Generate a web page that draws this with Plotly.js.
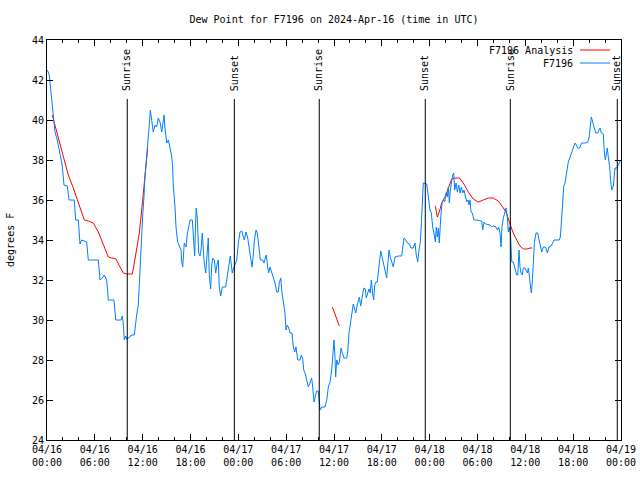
<!DOCTYPE html>
<html>
<head>
<meta charset="utf-8">
<script src="https://cdn.plot.ly/plotly-3.0.1.min.js"></script>
<style>html,body{margin:0;padding:0;background:#fff;}#chart{width:640px;height:480px;}</style>
</head>
<body>
<div id="chart"></div>
<script>
// ---- Data (hours since 2024-04-16 00:00 UTC, dew point in degrees F) ----
const obsHours = [0.00,0.16,0.30,0.50,0.66,0.88,1.00,1.29,1.42,1.72,1.92,2.13,2.55,2.76,3.42,3.60,3.93,4.14,4.35,4.98,5.18,6.44,6.65,6.94,7.19,7.49,7.69,8.40,8.62,9.28,9.45,9.57,9.70,9.87,10.00,10.41,10.54,10.95,11.04,11.25,11.45,11.58,11.75,11.88,12.00,12.17,12.29,12.51,12.71,12.83,12.96,13.13,13.33,13.55,13.76,13.96,14.17,14.39,14.68,14.80,15.02,15.22,15.43,15.64,15.77,15.84,16.06,16.18,16.39,16.81,16.90,17.02,17.22,17.44,17.60,17.94,18.23,18.44,18.52,18.65,18.72,18.85,19.03,19.19,19.32,19.48,19.69,19.91,20.03,20.23,20.36,20.53,20.66,20.79,20.99,21.16,21.36,21.49,21.61,21.79,21.99,22.42,22.54,22.74,22.87,22.99,23.12,23.24,23.37,23.58,23.80,24.00,24.21,24.42,24.55,24.75,24.96,25.18,25.34,25.55,25.72,25.88,26.01,26.22,26.38,26.59,26.76,27.06,27.22,27.38,27.51,27.68,27.81,27.97,28.19,28.39,28.60,28.81,29.01,29.14,29.32,29.48,29.64,29.85,29.98,30.14,30.32,30.48,30.73,30.90,31.07,31.23,31.45,31.74,31.90,32.08,32.20,32.40,32.58,32.78,32.99,33.20,33.33,33.49,33.66,33.83,34.03,34.16,34.25,34.46,34.87,35.09,35.29,35.50,35.71,35.84,36.00,36.13,36.21,36.34,36.54,36.67,36.88,37.04,37.26,37.60,37.72,37.88,38.05,38.22,38.42,38.55,38.72,38.89,39.05,39.18,39.35,39.55,39.73,39.93,40.05,40.23,40.39,40.55,40.68,40.86,40.98,41.11,41.27,41.43,41.56,41.73,41.86,41.98,42.19,42.40,42.61,42.74,42.90,43.06,43.28,43.44,43.65,44.07,44.49,44.62,44.78,45.00,45.20,45.45,45.66,45.95,46.16,46.32,46.50,46.66,46.83,46.92,47.08,47.20,47.63,47.83,48.04,48.21,48.38,48.58,48.71,48.83,48.96,49.09,49.21,49.39,49.55,49.72,49.89,50.05,50.21,50.34,50.47,50.59,50.77,50.89,51.02,51.14,51.31,51.47,51.65,51.81,51.97,52.15,52.31,52.47,52.65,52.81,52.94,53.06,53.19,53.35,53.56,53.90,54.53,54.65,54.82,55.03,55.57,55.78,55.98,56.32,56.49,56.66,56.82,56.95,57.07,57.24,57.41,57.58,57.74,57.87,57.99,58.16,58.24,58.30,58.49,58.71,58.92,59.05,59.21,59.33,59.46,59.62,59.75,59.96,60.09,60.25,60.38,60.50,60.63,60.75,60.88,61.00,61.13,61.34,61.55,61.72,61.88,62.06,62.26,62.47,62.59,62.76,62.97,63.22,63.43,63.60,64.26,64.39,64.57,64.69,64.82,64.98,65.11,65.23,65.39,65.60,65.82,66.02,66.23,66.40,66.57,66.82,67.07,67.49,67.82,67.99,68.15,68.28,68.45,68.62,68.83,69.08,69.24,69.37,69.53,69.78,69.91,70.03,70.16,70.28,70.41,70.58,70.71,70.84,71.04,71.25,71.46,71.66,71.79,72.00];
const obsValues = [42.5,42.4,42.2,41.35,40.5,39.9,39.4,39.0,38.7,38.2,37.7,36.75,36.7,36.0,36.0,35.0,35.0,33.8,34.0,33.9,33.0,33.0,32.0,32.1,32.25,32.0,31.0,31.0,30.0,30.0,30.2,29.8,29.0,29.2,29.05,29.15,29.25,29.25,29.65,30.25,30.75,31.9,33.2,34.0,35.2,36.2,37.2,38.2,39.0,39.75,40.5,40.0,39.4,39.75,39.65,40.1,39.9,39.4,40.25,39.6,38.85,39.0,38.6,38.2,37.6,36.7,35.65,34.65,33.9,33.5,32.9,32.65,33.85,33.65,34.3,35.0,35.0,33.65,33.2,35.0,35.6,35.1,33.35,33.2,33.5,34.35,33.0,32.35,33.0,34.1,32.2,31.55,32.75,33.1,33.0,32.35,32.85,33.0,31.65,31.2,31.65,31.65,32.0,32.5,33.0,33.2,32.75,32.35,32.55,32.75,33.0,33.85,34.4,34.45,34.25,34.0,34.4,34.1,33.65,33.15,32.65,33.25,33.95,34.5,34.35,33.65,33.0,33.0,32.85,33.1,33.25,32.65,32.35,32.65,32.4,32.15,31.85,31.4,31.4,31.85,32.1,31.35,30.85,30.35,29.5,29.75,29.6,29.35,29.35,28.65,28.4,28.65,28.0,28.0,28.25,28.05,27.5,27.3,27.0,26.65,26.85,27.1,26.65,25.9,26.2,26.45,26.45,26.0,25.5,25.65,25.65,26.0,26.65,26.9,27.5,28.15,29.0,28.1,27.15,28.0,27.75,27.9,28.6,28.35,28.1,28.1,28.4,29.35,29.85,30.35,30.8,30.6,30.35,30.7,31.0,31.15,30.7,31.25,31.6,31.55,31.1,31.35,31.55,31.35,32.0,31.25,31.0,31.75,31.9,31.9,32.35,32.85,33.45,33.25,32.9,32.5,32.1,32.75,33.5,33.15,32.9,32.65,33.15,33.2,33.2,33.75,34.1,34.0,33.85,33.8,33.6,33.6,33.85,33.25,32.9,33.5,33.9,34.5,35.6,36.85,36.8,36.15,35.5,35.35,34.65,34.25,33.9,34.65,34.15,34.6,33.85,35.15,35.85,36.0,35.9,36.35,36.15,36.65,35.85,36.5,37.1,37.25,37.35,36.5,36.85,36.4,36.75,36.35,36.65,36.35,36.5,36.15,35.9,36.0,35.75,36.0,35.4,35.35,35.0,35.0,34.95,34.5,34.9,34.8,34.75,34.65,34.7,34.65,34.5,34.65,34.35,33.65,34.65,35.1,35.4,35.6,35.15,34.4,34.65,34.15,33.35,32.9,32.9,32.5,32.25,32.25,33.5,32.65,32.35,32.25,32.6,32.6,32.5,32.35,32.6,32.25,31.85,31.35,31.9,33.0,33.85,34.35,34.35,34.0,33.65,33.4,33.65,33.65,33.6,33.35,33.65,33.7,33.85,34.0,34.0,34.15,35.15,36.15,36.7,36.85,37.1,37.5,37.9,38.15,38.35,38.6,38.85,38.75,38.6,38.6,38.85,38.85,38.9,39.1,39.6,40.15,39.9,39.6,39.35,39.35,39.45,39.6,39.35,39.3,38.4,38.0,38.3,38.6,38.15,37.65,36.9,36.5,36.7,37.6,37.6,37.75,37.9,38.0];

// Analysis series; null marks a gap in the analysis
const anaHours = [0.66,1.22,1.63,2.04,2.67,3.30,3.93,4.35,4.68,5.18,5.81,6.44,7.06,7.69,8.12,8.66,9.03,9.57,10.00,10.70,10.95,11.25,11.58,11.88,12.17,12.38,12.63,20.0,35.79,36.13,36.67,42.0,48.71,48.96,49.21,49.51,49.92,50.34,50.77,51.18,51.72,52.22,52.85,53.47,54.10,54.73,55.36,55.98,56.61,57.16,57.58,58.00,58.43,58.92,59.33,59.75,60.17,60.59,60.88];
const anaValues = [40.25,39.4,38.75,38.1,37.25,36.6,35.9,35.4,35.0,34.95,34.85,34.4,33.75,33.15,33.1,33.05,32.75,32.35,32.3,32.3,32.85,33.5,34.35,35.5,36.65,37.6,38.6,null,30.65,30.25,29.7,null,35.7,35.15,35.4,35.85,36.15,36.6,37.05,37.1,37.1,36.85,36.4,36.05,35.9,36.0,36.1,36.1,35.95,35.65,35.4,34.9,34.4,34.0,33.7,33.55,33.55,33.6,33.6];

const seriesNames = ['F7196 Analysis', 'F7196'];
const seriesColors = ['#ff0000', '#0080ff'];

const sunTimes = ['2024-04-16 10:04','2024-04-16 23:30','2024-04-17 10:09','2024-04-17 23:27','2024-04-18 10:07','2024-04-18 23:32'];
const sunLabels = ['Sunrise','Sunset','Sunrise','Sunset','Sunrise','Sunset'];

const yTicks = [24,26,28,30,32,34,36,38,40,42,44];

const chartTitle = 'Dew Point for F7196 on 2024-Apr-16 (time in UTC)';
const yTitle = 'degrees F';

// ---- Build ----
const base = Date.UTC(2024, 3, 16, 0, 0, 0);
const toMs = h => base + h * 3600000;

const FONT = {family: 'DejaVu Sans Mono, monospace', size: 10, color: '#000'};

const traces = [
  {x: anaHours.map(toMs), y: anaValues, type: 'scatter', mode: 'lines', name: seriesNames[0],
   line: {color: seriesColors[0], width: 1}, connectgaps: false, hoverinfo: 'skip'},
  {x: obsHours.map(toMs), y: obsValues, type: 'scatter', mode: 'lines', name: seriesNames[1],
   line: {color: seriesColors[1], width: 1}, hoverinfo: 'skip'}
];

const shapes = [];
const annotations = [];
sunTimes.forEach((t, i) => {
  shapes.push({type: 'line', xref: 'x', yref: 'paper', x0: t, x1: t, y0: 0, y1: 0.8525,
               line: {color: '#000', width: 1}});
  annotations.push({xref: 'x', yref: 'paper', x: t, y: 0.868, text: sunLabels[i],
                    textangle: -90, showarrow: false, xanchor: 'center', yanchor: 'bottom',
                    font: FONT});
});

// legend (text on the left, line sample on the right, like the original)
const legendY = [0.975, 0.9425];
seriesNames.forEach((n, i) => {
  annotations.push({xref: 'paper', yref: 'paper', x: 0.9195, y: legendY[i], text: n,
                    showarrow: false, xanchor: 'right', yanchor: 'middle', font: FONT});
  shapes.push({type: 'line', xref: 'paper', yref: 'paper', x0: 0.9286, x1: 0.981,
               y0: legendY[i], y1: legendY[i], line: {color: seriesColors[i], width: 1}});
});

// y axis title
annotations.push({xref: 'paper', yref: 'paper', x: -0.0645, y: 0.5, text: yTitle,
                  textangle: -90, showarrow: false, xanchor: 'center', yanchor: 'middle', font: FONT});

const layout = {
  width: 640, height: 480,
  margin: {l: 47, r: 19, t: 40, b: 40, pad: 0},
  paper_bgcolor: '#fff', plot_bgcolor: '#fff',
  font: FONT,
  showlegend: false,
  title: {text: chartTitle, font: FONT, x: 0.5, xref: 'paper', xanchor: 'center',
          y: 0.96, yref: 'container', yanchor: 'middle'},
  xaxis: {
    type: 'date',
    range: [toMs(0), toMs(72)],
    tick0: toMs(0), dtick: 6 * 3600000,
    tickformat: '%m/%d<br>%H:%M',
    ticks: 'inside', ticklen: 6, tickcolor: '#000', tickwidth: 1,
    minor: {ticks: 'inside', dtick: 2 * 3600000, tick0: toMs(0), ticklen: 3, tickcolor: '#000', showgrid: false},
    showline: true, linecolor: '#000', linewidth: 1, mirror: 'ticks',
    showgrid: false, zeroline: false, tickfont: FONT, fixedrange: true
  },
  yaxis: {
    range: [24, 44],
    tickvals: yTicks,
    ticktext: yTicks.map(String),
    ticks: 'inside', ticklen: 6, tickcolor: '#000', tickwidth: 1,
    showline: true, linecolor: '#000', linewidth: 1, mirror: 'ticks',
    showgrid: false, zeroline: false, tickfont: FONT, fixedrange: true
  },
  shapes: shapes,
  annotations: annotations
};

Plotly.newPlot('chart', traces, layout, {staticPlot: true, displayModeBar: false});
</script>
</body>
</html>
